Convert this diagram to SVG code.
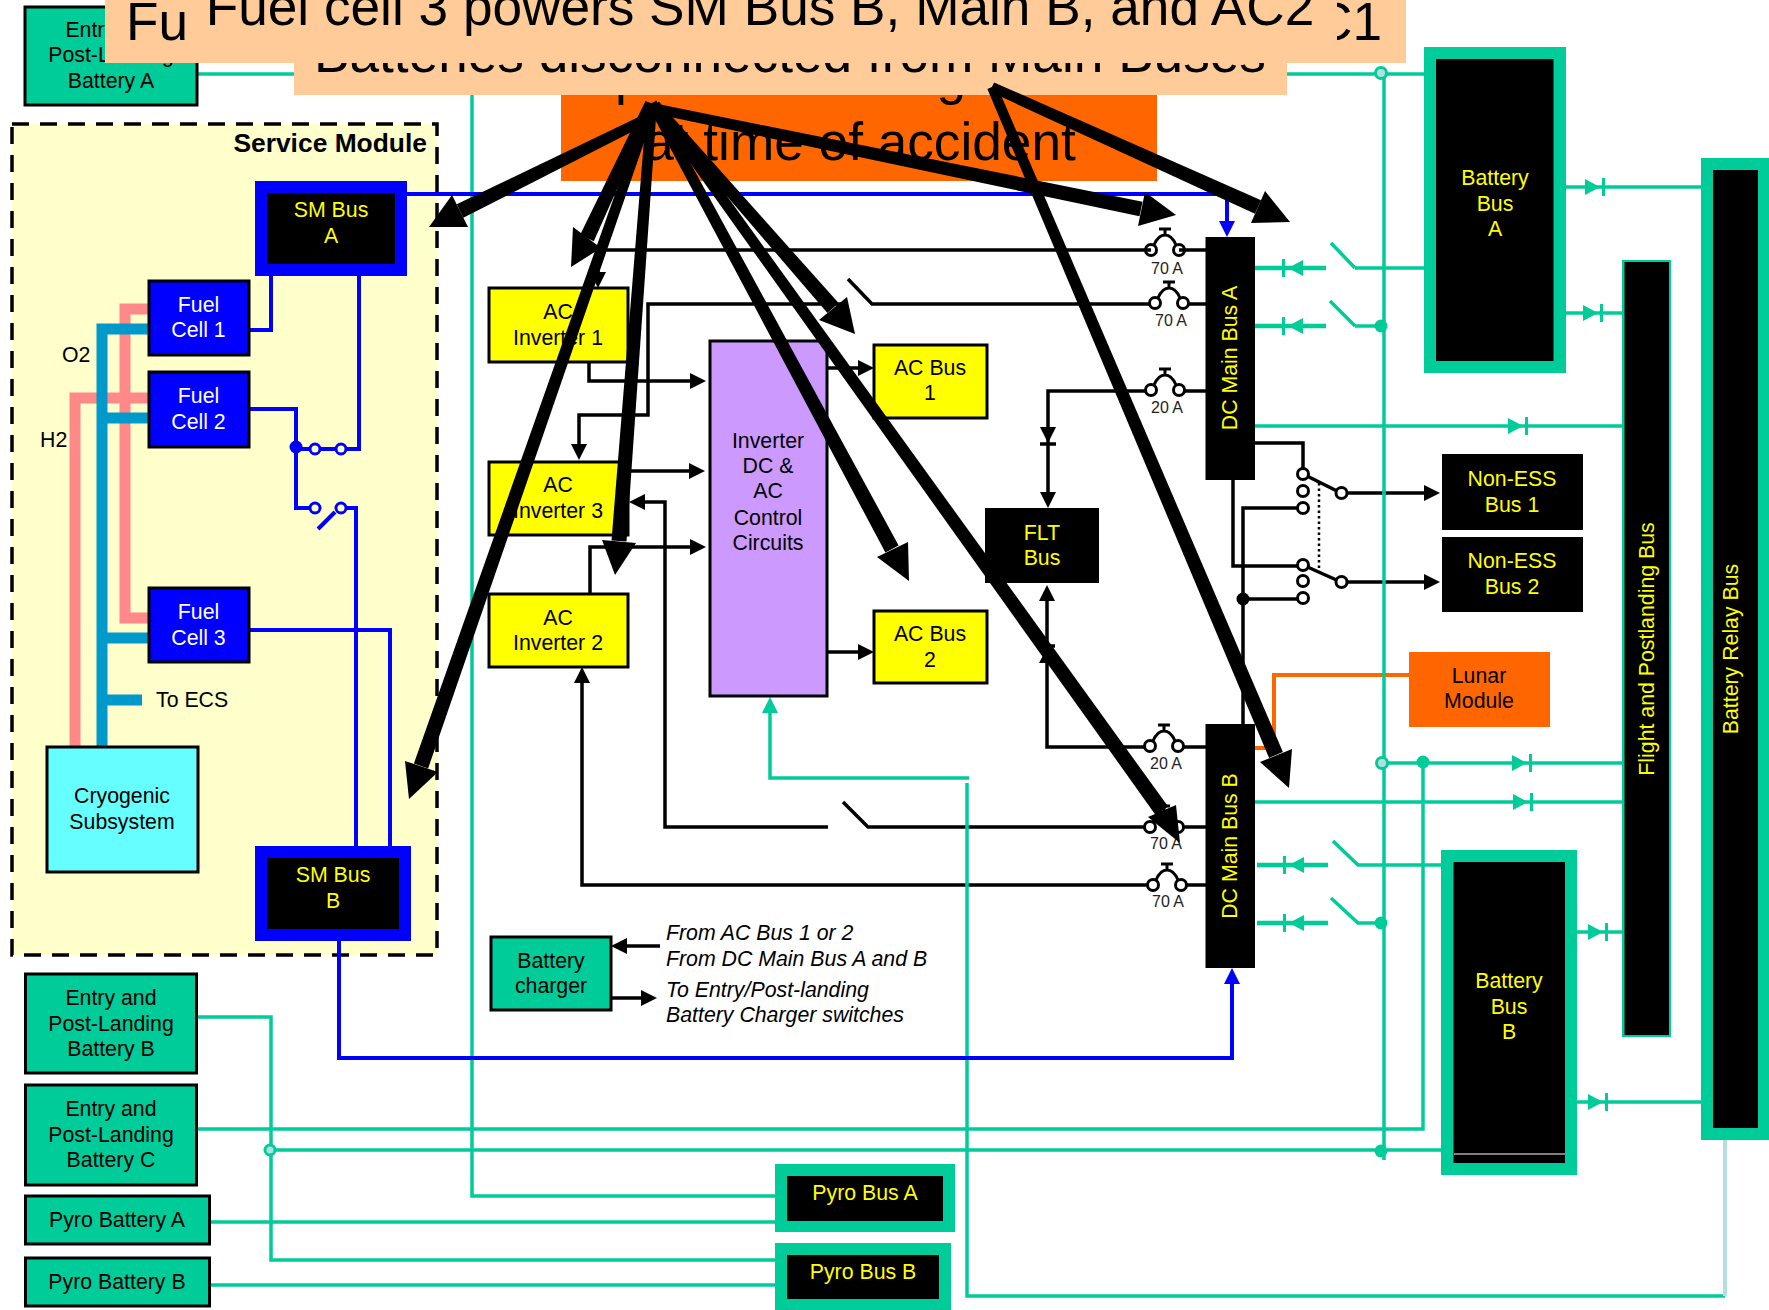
<svg xmlns="http://www.w3.org/2000/svg" width="1769" height="1310" viewBox="0 0 1769 1310">
<style>
text{font-family:"Liberation Sans",Arial,sans-serif;font-size:21.300px;text-anchor:middle;fill:#000}
.y{fill:#FF0}.w{fill:#FFF}.big{font-size:53.200px}.s{font-size:16px;fill:#222}.l{text-anchor:start}.i{font-style:italic;text-anchor:start}
.box{stroke:#000;stroke-width:3}
.k{fill:none;stroke:#000;stroke-width:3.5}
.g{fill:none;stroke:#0C9;stroke-width:3.5}
.gt{fill:none;stroke:#0C9;stroke-width:4.500}
.b{fill:none;stroke:#00F;stroke-width:4}
.bc{fill:#FFC;stroke:#00F;stroke-width:3}
.kc{fill:#FFF;stroke:#000;stroke-width:3}
.dot{fill:#0C9}
.open{fill:#B5DEDE;stroke:#0C9;stroke-width:3}
.p{fill:none;stroke:#F88;stroke-width:11}
.c{fill:none;stroke:#09C;stroke-width:11}
</style>
<defs>
<marker id="ak" markerUnits="userSpaceOnUse" markerWidth="16" markerHeight="16" viewBox="0 0 16 16" refX="12" refY="8" orient="auto"><path d="M0 0L16 8L0 16Z" fill="#000"/></marker>
<marker id="ab" markerUnits="userSpaceOnUse" markerWidth="16" markerHeight="16" viewBox="0 0 16 16" refX="12" refY="8" orient="auto"><path d="M0 0L16 8L0 16Z" fill="#00F"/></marker>
<marker id="ag" markerUnits="userSpaceOnUse" markerWidth="16" markerHeight="16" viewBox="0 0 16 16" refX="12" refY="8" orient="auto"><path d="M0 0L16 8L0 16Z" fill="#0C9"/></marker>
<g id="dr"><path d="M0 -8L15 0L0 8Z" fill="#0C9"/><path d="M18.500 -9V9" stroke="#0C9" stroke-width="3"/></g>
<g id="dl"><path d="M18 -8L3 0L18 8Z" fill="#0C9"/><path d="M-1.500 -9V9" stroke="#0C9" stroke-width="3"/></g>
<g id="cb"><circle cx="0" cy="0" r="5.500" stroke="#000" stroke-width="3"/><circle cx="28" cy="0" r="5.500" stroke="#000" stroke-width="3"/><path d="M3 -5C6 -12 9 -15 14 -15S22 -12 25 -5M14 -15V-21M8 -21H20" fill="none" stroke="#000" stroke-width="3"/></g>
</defs>
<rect width="1769" height="1310" fill="#FFF"/>
<g id="service-module"><rect x="12" y="124" width="425" height="831" fill="#FFC" stroke="#000" stroke-width="3.500" stroke-dasharray="17 11"/><text x="427" y="152" style="text-anchor:end;font-size:26.400px;font-weight:bold">Service Module</text></g>
<g id="connectors">
<path class="p" d="M148 398H75V746M148 309H125V618H148"/>
<path class="c" d="M148 329H102V746M102 418H148M102 638H148M102 700H142"/>
<path class="k" d="M1151 250H598V284"  marker-end="url(#ak)"/>
<path class="k" d="M845 304H648V415H579V456" marker-end="url(#ak)"/>
<path class="k" d="M848 279L872 304H1155"/>
<path class="k" d="M589 362V381H702" marker-end="url(#ak)"/>
<path class="k" d="M628 471H701" marker-end="url(#ak)"/>
<path class="k" d="M590 594V547H702" marker-end="url(#ak)"/>
<path class="k" d="M824 368H870" marker-end="url(#ak)"/>
<path class="k" d="M827 652H870" marker-end="url(#ak)"/>
<path class="k" d="M828 827H665V502H633" marker-end="url(#ak)"/>
<path class="k" d="M843 802L868 827H1150"/>
<path class="k" d="M1153 885H582V671" marker-end="url(#ak)"/>
<path class="k" d="M1151 391H1048V504" marker-end="url(#ak)"/>
<path d="M1040 427H1056L1048 443Z"/><path class="k" d="M1040 444H1056"/>
<path class="k" d="M1150 747H1047V589" marker-end="url(#ak)"/>
<path d="M1039 663H1055L1047 648Z"/><path class="k" d="M1039 646H1055"/>
<path class="k" d="M1179 250H1206M1182 304H1206M1179 391H1206M1177 747H1206M1179 827H1206M1180 885H1206"/>
<path class="k" d="M1255 443H1303V470"/>
<path class="k" d="M1303 474L1341 493"/><path class="k" d="M1303 565L1341 582"/>
<path class="k" d="M1347 493H1436" marker-end="url(#ak)"/>
<path class="k" d="M1347 582H1436" marker-end="url(#ak)"/>
<path class="k" d="M1298 508H1243V724M1298 599H1243"/>
<path class="k" d="M1233 480V566H1298"/>
<path d="M1319 483V568" fill="none" stroke="#000" stroke-width="2.500" stroke-dasharray="2.500 3"/>
<circle cx="1243" cy="599" r="6.500"/>
<path class="k" d="M660 946H615" marker-end="url(#ak)"/>
<path class="k" d="M611 998H653" marker-end="url(#ak)"/>
<path d="M1409 675H1274V748H1255" fill="none" stroke="#F60" stroke-width="4"/>
<path class="g" d="M197 74H1424M472 74V1196H776M1384 73V1160M1355 268H1424M1355 326H1384"/>
<path class="gt" d="M1255 268H1326M1255 326H1326M1257 865H1328M1257 923H1328"/>
<path class="g" d="M1331 243L1355 268M1330 301L1355 326M1333 841L1358 865H1441M1331 898L1358 923H1384"/>
<path class="g" d="M1566 187H1701M1566 313H1622M1255 426H1622M1382 763H1622M1255 802H1622M1577 932H1622M1577 1102H1701"/>
<path class="g" d="M1423 763V1129H197M197 1017H271V1260H776M270 1150H1441M208 1222H776M210 1285H776"/>
<path class="g" d="M967 783V1296H1725"/>
<path class="g" d="M969 778H770V701" marker-end="url(#ag)"/>
<path d="M1725 1140V1296" fill="none" stroke="#B5DEDE" stroke-width="4"/>
<use href="#dr" x="1585" y="187"/><use href="#dr" x="1583" y="313"/><use href="#dr" x="1508" y="426"/><use href="#dr" x="1512" y="763"/><use href="#dr" x="1513" y="802"/><use href="#dr" x="1588" y="932"/><use href="#dr" x="1588" y="1102"/>
<use href="#dl" x="1285" y="268"/><use href="#dl" x="1285" y="326"/><use href="#dl" x="1286" y="865"/><use href="#dl" x="1286" y="923"/>
<circle class="open" cx="1381" cy="73" r="5.500"/><circle class="open" cx="1382" cy="763" r="5.500"/><circle class="open" cx="270" cy="1150" r="5"/>
<circle class="dot" cx="1381" cy="326" r="6.500"/><circle class="dot" cx="1423" cy="762" r="6.500"/><circle class="dot" cx="1381" cy="923" r="6.500"/><circle class="dot" cx="1381" cy="1151" r="6.500"/>
<path class="b" d="M407 194H1227V233" marker-end="url(#ab)"/>
<path class="b" d="M339 941V1058H1232V972" marker-end="url(#ab)"/>
<path class="b" d="M249 330H271V276M359 276V449H296M249 409H296V508H310M346 508H356V846M249 630H390V846"/>
<path class="b" d="M318 529L335 512"/>
<circle cx="296" cy="447" r="6.500" fill="#00F"/>
<circle class="bc" cx="315" cy="449" r="5"/><circle class="bc" cx="341" cy="449" r="5"/><circle class="bc" cx="315" cy="508" r="5"/><circle class="bc" cx="341" cy="508" r="5"/>
<circle class="kc" cx="1303" cy="474" r="5.500"/><circle class="kc" cx="1303" cy="491" r="5.500"/><circle class="kc" cx="1303" cy="508" r="5.500"/><circle class="kc" cx="1341.500" cy="493" r="5.500"/>
<circle class="kc" cx="1303" cy="565" r="5.500"/><circle class="kc" cx="1303" cy="581" r="5.500"/><circle class="kc" cx="1303" cy="598" r="5.500"/><circle class="kc" cx="1341.500" cy="582" r="5.500"/>
<use href="#cb" x="1151" y="250" fill="none"/><use href="#cb" x="1155" y="303" fill="#FFF"/><use href="#cb" x="1151" y="390" fill="#FFF"/><use href="#cb" x="1150" y="746" fill="#FFF"/><use href="#cb" x="1150" y="827" fill="#FFF"/><use href="#cb" x="1153" y="885" fill="#FFF"/>
</g>
<g id="labels">
<text class="s" x="1167" y="274">70 A</text><text class="s" x="1171" y="326">70 A</text><text class="s" x="1167" y="413">20 A</text><text class="s" x="1166" y="769">20 A</text><text class="s" x="1166" y="849">70 A</text><text class="s" x="1168" y="907">70 A</text>
<text class="l" x="62" y="362">O2</text><text class="l" x="40" y="447">H2</text><text class="l" x="156" y="707">To ECS</text>
<text class="i" x="666" y="940">From AC Bus 1 or 2</text><text class="i" x="666" y="966">From DC Main Bus A and B</text><text class="i" x="666" y="997">To Entry/Post-landing</text><text class="i" x="666" y="1022">Battery Charger switches</text>
</g>
<g id="entry-a"><rect class="box" x="25" y="7" width="172" height="98" fill="#0C9"/><text x="111" y="37">Entry and</text><text x="111" y="62">Post-Landing</text><text x="111" y="88">Battery A</text></g>
<g id="entry-b"><rect class="box" x="25.500" y="974" width="171" height="99" fill="#0C9"/><text x="111" y="1005">Entry and</text><text x="111" y="1031">Post-Landing</text><text x="111" y="1056">Battery B</text></g>
<g id="entry-c"><rect class="box" x="25.500" y="1085" width="171" height="100" fill="#0C9"/><text x="111" y="1116">Entry and</text><text x="111" y="1142">Post-Landing</text><text x="111" y="1167">Battery C</text></g>
<g id="pyro-a"><rect class="box" x="25.500" y="1196" width="184" height="48" fill="#0C9"/><text x="117" y="1227">Pyro Battery A</text></g>
<g id="pyro-b"><rect class="box" x="25.500" y="1258" width="184" height="48" fill="#0C9"/><text x="117" y="1289">Pyro Battery B</text></g>
<g id="sm-a"><rect x="255" y="181" width="152" height="95" fill="#00F"/><rect x="267" y="193" width="128" height="71"/><text class="y" x="331" y="217">SM Bus</text><text class="y" x="331" y="243">A</text></g>
<g id="sm-b"><rect x="255" y="846" width="156" height="95" fill="#00F"/><rect x="267" y="858" width="132" height="71"/><text class="y" x="333" y="882">SM Bus</text><text class="y" x="333" y="908">B</text></g>
<g id="fc1"><rect class="box" x="149" y="281" width="100" height="74" fill="#00F"/><text class="w" x="198.500" y="312">Fuel</text><text class="w" x="198.500" y="337">Cell 1</text></g>
<g id="fc2"><rect class="box" x="149" y="372" width="100" height="75" fill="#00F"/><text class="w" x="198.500" y="403">Fuel</text><text class="w" x="198.500" y="429">Cell 2</text></g>
<g id="fc3"><rect class="box" x="149" y="588" width="100" height="74" fill="#00F"/><text class="w" x="198.500" y="619">Fuel</text><text class="w" x="198.500" y="645">Cell 3</text></g>
<g id="cryo"><rect class="box" x="47" y="747" width="151" height="125" fill="#6FF"/><text x="122" y="803">Cryogenic</text><text x="122" y="829">Subsystem</text></g>
<g id="ac-inv-1"><rect class="box" x="489" y="288" width="139" height="74" fill="#FF0"/><text x="558" y="319">AC</text><text x="558" y="345">Inverter 1</text></g>
<g id="ac-inv-3"><rect class="box" x="489" y="462" width="139" height="73" fill="#FF0"/><text x="558" y="492">AC</text><text x="558" y="518">Inverter 3</text></g>
<g id="ac-inv-2"><rect class="box" x="489" y="594" width="139" height="73" fill="#FF0"/><text x="558" y="625">AC</text><text x="558" y="650">Inverter 2</text></g>
<g id="inverter"><rect class="box" x="710" y="341" width="117" height="355" fill="#C9F"/><text x="768" y="448">Inverter</text><text x="768" y="473">DC &amp;</text><text x="768" y="498">AC</text><text x="768" y="525">Control</text><text x="768" y="550">Circuits</text></g>
<g id="ac-bus-1"><rect class="box" x="874" y="345" width="113" height="73" fill="#FF0"/><text x="930" y="375">AC Bus</text><text x="930" y="400">1</text></g>
<g id="ac-bus-2"><rect class="box" x="874" y="611" width="113" height="72" fill="#FF0"/><text x="930" y="641">AC Bus</text><text x="930" y="667">2</text></g>
<g id="flt-bus"><rect x="985" y="508" width="114" height="75"/><text class="y" x="1042" y="540">FLT</text><text class="y" x="1042" y="565">Bus</text></g>
<g id="dc-a"><rect x="1205.500" y="237" width="49.500" height="243"/><text class="y" transform="translate(1237 358) rotate(-90)">DC Main Bus A</text></g>
<g id="dc-b"><rect x="1205.500" y="724" width="49.500" height="244"/><text class="y" transform="translate(1237 846) rotate(-90)">DC Main Bus B</text></g>
<g id="non-ess-1"><rect x="1442" y="454" width="141" height="76"/><text class="y" x="1512" y="486">Non-ESS</text><text class="y" x="1512" y="512">Bus 1</text></g>
<g id="non-ess-2"><rect x="1442" y="537" width="141" height="75"/><text class="y" x="1512" y="568">Non-ESS</text><text class="y" x="1512" y="594">Bus 2</text></g>
<g id="lunar"><rect x="1409" y="652" width="141" height="75" fill="#F60"/><text x="1479" y="683">Lunar</text><text x="1479" y="708">Module</text></g>
<g id="batt-a"><rect x="1424" y="47" width="142" height="326" fill="#0C9"/><rect x="1436" y="59" width="117.500" height="302"/><text class="y" x="1495" y="185">Battery</text><text class="y" x="1495" y="211">Bus</text><text class="y" x="1495" y="236">A</text></g>
<g id="batt-b"><rect x="1441" y="850" width="136" height="325" fill="#0C9"/><rect x="1453.500" y="862" width="111.500" height="301"/><path d="M1454 1154H1565" stroke="#FFF" stroke-width="1"/><text class="y" x="1509" y="988">Battery</text><text class="y" x="1509" y="1014">Bus</text><text class="y" x="1509" y="1039">B</text></g>
<g id="flight-bus"><rect x="1622" y="260" width="49" height="777" fill="#0C9"/><rect x="1624.500" y="262" width="44.500" height="773"/><text class="y" transform="translate(1654 649) rotate(-90)">Flight and Postlanding Bus</text></g>
<g id="relay-bus"><rect x="1701" y="158" width="70" height="982" fill="#0C9"/><rect x="1713" y="170" width="45" height="958"/><text class="y" transform="translate(1738 649) rotate(-90)">Battery Relay Bus</text></g>
<g id="pyro-bus-a"><rect x="775" y="1164" width="180" height="68" fill="#0C9"/><rect x="787" y="1176" width="156" height="45"/><text class="y" x="865" y="1200">Pyro Bus A</text></g>
<g id="pyro-bus-b"><rect x="775" y="1243" width="176" height="68" fill="#0C9"/><rect x="787" y="1255" width="152" height="44"/><text class="y" x="863" y="1279">Pyro Bus B</text></g>
<g id="charger"><rect class="box" x="491" y="937" width="120" height="73" fill="#0C9"/><text x="551" y="968">Battery</text><text x="551" y="993">charger</text></g>
<g id="callouts">
<rect x="561" y="60" width="596" height="121" fill="#F60"/>
<text class="big l" x="615" y="94" style="letter-spacing:4.500px">power configuration</text>
<text class="big" x="860" y="160">at time of accident</text>
<rect x="294" y="40" width="993" height="55" fill="#FC9"/>
<text class="big" x="790" y="72">Batteries disconnected from Main Buses</text>
<rect x="105" y="-5" width="1301" height="68" fill="#FC9"/>
<text class="big l" x="126" y="40">Fu</text>
<text class="big l" x="1314" y="40">C1</text>
<rect x="190" y="-5" width="1147" height="68" fill="#FC9"/>
<text class="big" x="760" y="25">Fuel cell 3 powers SM Bus B, Main B, and AC2</text>
</g>
<g id="callout-arrows">
<path d="M650.200 122.500L463.300 217.700L456.700 204.300L645.800 113.500Z"/><path d="M429 227L452 195L468 227Z"/>
<path d="M654.500 105.100L593.800 241.200L580.200 234.800L645.500 100.900Z"/><path d="M571 267L573 227L601 248Z"/>
<path d="M657 103.400L626.500 541.600L611.500 540.400L647 102.600Z"/><path d="M615 575L602 540L636 543Z"/>
<path d="M654.700 111.600L428.100 768.500L413.900 763.500L645.300 108.400Z"/><path d="M409 799L405 761L438 772Z"/>
<path d="M658.800 101.700L838.600 303.100L827.400 312.900L651.200 108.300Z"/><path d="M855 334L847 297L819 320Z"/>
<path d="M656.400 100.600L898.600 545.400L885.400 552.600L647.600 105.400Z"/><path d="M909 581L908 542L877 557Z"/>
<path d="M659.100 102.100L1168.100 806.600L1155.900 815.400L650.900 107.900Z"/><path d="M1180 843L1176 805L1148 817Z"/>
<path d="M653 103.100L1142.500 201.700L1139.500 216.300L651 112.900Z"/><path d="M1176 215L1145 192L1138 226Z"/>
<path d="M994.100 82.400L1261.100 200.200L1254.900 213.800L989.900 91.600Z"/><path d="M1290 222L1265 191L1251 223Z"/>
<path d="M996.600 85L1282.900 752.100L1269.100 757.900L987.400 89Z"/><path d="M1289 788L1292 749L1260 762Z"/>
</g>
</svg>
